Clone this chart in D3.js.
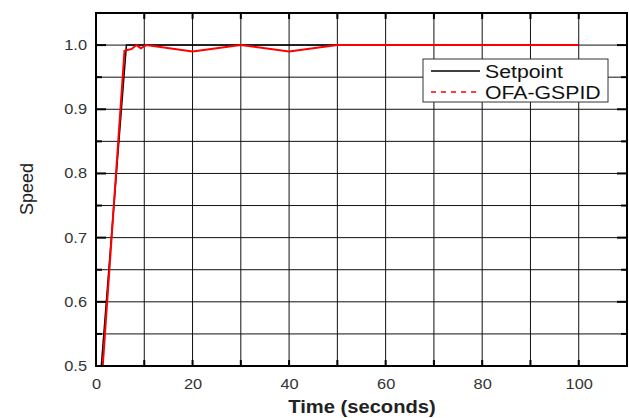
<!DOCTYPE html>
<html>
<head>
<meta charset="utf-8">
<script src="https://cdn.jsdelivr.net/npm/d3@7"></script>
<style>
  body { margin: 0; background: #fff; }
  text { font-family: "Liberation Sans", Arial, sans-serif; }
</style>
</head>
<body>
<svg id="chart"></svg>
<script>
// setpoint: ramp then hold
const setpointT = [1.1, 6.3, 100];
const setpointV = [0.5, 1.0, 1.0];
// OFA-GSPID response
const responseT = [1.4, 5.9, 7.4, 8.4, 9.3, 10.4, 20, 30, 40, 50, 100];
const responseV = [0.5, 0.991, 0.994, 1.0, 0.995, 1.0, 0.99, 1.0, 0.99, 1.0, 1.0];
const xTicks = [0, 20, 40, 60, 80, 100];
const yTicks = [0.5, 0.6, 0.7, 0.8, 0.9, 1.0];
const legendNames = ['Setpoint', 'OFA-GSPID'];

const width = 629, height = 418;
const margin = { top: 13, right: 2, bottom: 52, left: 96 };
const w = width - margin.left - margin.right;
const h = height - margin.top - margin.bottom;

const svg = d3.select('#chart').attr('width', width).attr('height', height);
const g = svg.append('g').attr('transform', `translate(${margin.left},${margin.top})`);

const x = d3.scaleLinear().domain([0, 110]).range([0, w]);
const y = d3.scaleLinear().domain([0.5, 1.05]).range([h, 0]);

// the source text is a bit wider than the font, stretch it
function stretch(sel, k) {
  sel.each(function () {
    const len = this.getComputedTextLength();
    d3.select(this).attr('textLength', len * k).attr('lengthAdjust', 'spacingAndGlyphs');
  });
}

// grid
g.append('g').selectAll('line').data(d3.range(10, 110, 10)).join('line')
  .attr('x1', d => x(d)).attr('x2', d => x(d)).attr('y1', 0).attr('y2', h)
  .attr('stroke', '#111').attr('stroke-width', 1);
g.append('g').selectAll('line').data(d3.range(0.55, 1.04, 0.05)).join('line')
  .attr('y1', d => y(d)).attr('y2', d => y(d)).attr('x1', 0).attr('x2', w)
  .attr('stroke', '#111').attr('stroke-width', 1);

// inward ticks (major + minor)
const tickG = g.append('g').attr('stroke', '#000').attr('stroke-width', 2);
d3.range(0, 110, 10).forEach(t => {
  tickG.append('line').attr('x1', x(t)).attr('x2', x(t)).attr('y1', h).attr('y2', h - 6);
  tickG.append('line').attr('x1', x(t)).attr('x2', x(t)).attr('y1', 0).attr('y2', 6);
});
d3.range(0.5, 1.05, 0.05).forEach((v, i) => {
  const len = i % 2 === 0 ? 10 : 6;
  tickG.append('line').attr('y1', y(v)).attr('y2', y(v)).attr('x1', 0).attr('x2', len);
  tickG.append('line').attr('y1', y(v)).attr('y2', y(v)).attr('x1', w).attr('x2', w - len);
});

// axes labels
const xAxis = d3.axisBottom(x).tickValues(xTicks).tickSize(0).tickPadding(13).tickFormat(d3.format('d'));
const yAxis = d3.axisLeft(y).tickValues(yTicks).tickSize(0).tickPadding(9).tickFormat(d3.format('.1f'));
g.append('g').attr('transform', `translate(0,${h})`).call(xAxis)
  .call(s => s.select('.domain').remove())
  .selectAll('text').attr('font-size', 14).attr('fill', '#333').call(stretch, 1.17);
g.append('g').call(yAxis)
  .call(s => s.select('.domain').remove())
  .selectAll('text').attr('font-size', 14).attr('fill', '#333').call(stretch, 1.17);

// lines
svg.append('clipPath').attr('id', 'clip').append('rect').attr('width', w).attr('height', h);
const line = d3.line().x(d => x(d[0])).y(d => y(d[1]));
const lines = g.append('g').attr('clip-path', 'url(#clip)');
lines.append('path').datum(d3.zip(setpointT, setpointV))
  .attr('d', line).attr('fill', 'none').attr('stroke', '#000').attr('stroke-width', 1.5);
lines.append('path').datum(d3.zip(responseT, responseV))
  .attr('d', line).attr('fill', 'none').attr('stroke', '#f00').attr('stroke-width', 2);

// frame
g.append('rect').attr('width', w).attr('height', h)
  .attr('fill', 'none').attr('stroke', '#000').attr('stroke-width', 2);

// legend
const lg = svg.append('g').attr('transform', 'translate(423,59)');
lg.append('rect').attr('width', 185).attr('height', 43)
  .attr('fill', '#fff').attr('stroke', '#333').attr('stroke-width', 1);
legendNames.forEach((name, i) => {
  const yy = 12 + i * 21;
  lg.append('line').attr('x1', 8).attr('x2', 57).attr('y1', yy).attr('y2', yy)
    .attr('stroke', i === 0 ? '#000' : '#f00').attr('stroke-width', 1.5)
    .attr('stroke-dasharray', i === 0 ? null : '5,5');
  lg.append('text').attr('x', 62).attr('y', yy + 6.5).attr('font-size', 18).attr('fill', '#111')
    .text(name).call(stretch, 1.18);
});

// titles
svg.append('text').attr('x', 362).attr('y', 413)
  .attr('text-anchor', 'middle').attr('font-size', 18).attr('font-weight', 'bold').attr('fill', '#222')
  .text('Time (seconds)').call(stretch, 1.12);
svg.append('text').attr('transform', 'translate(33,189) rotate(-90)')
  .attr('text-anchor', 'middle').attr('font-size', 18).attr('fill', '#222').text('Speed');
</script>
</body>
</html>
